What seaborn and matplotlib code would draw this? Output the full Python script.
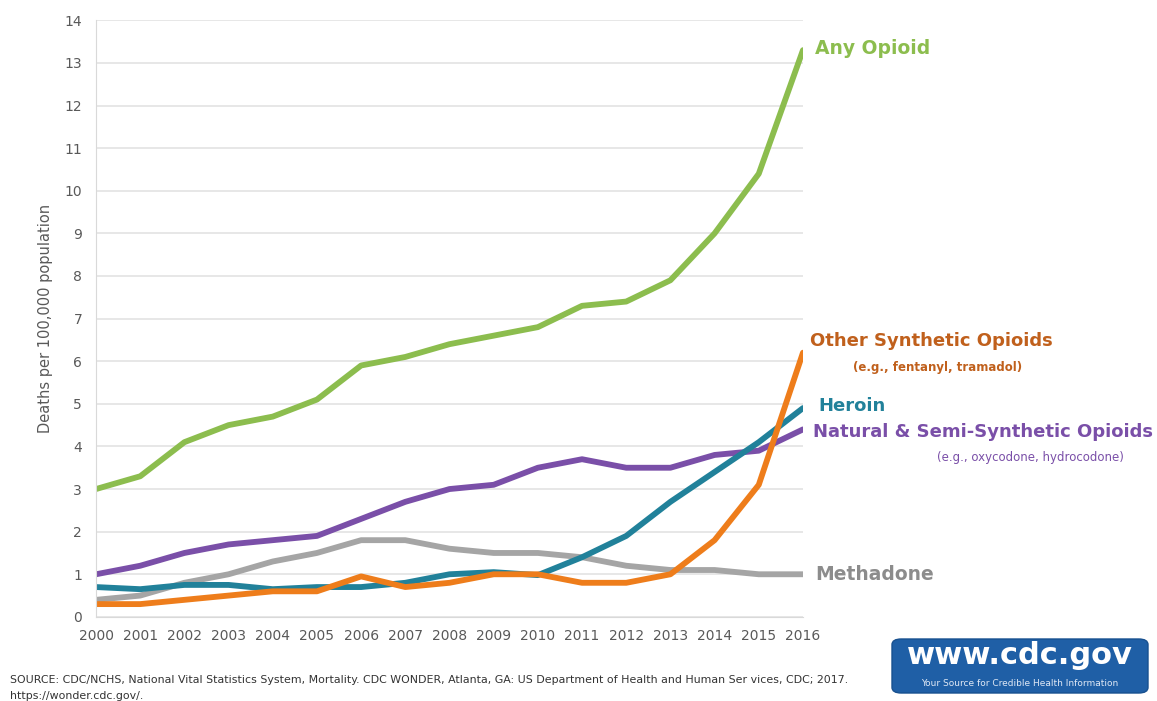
import pandas as pd
import matplotlib.pyplot as plt
import seaborn as sns
from matplotlib.patches import FancyBboxPatch

years = list(range(2000, 2017))
any_opioid = [3.0, 3.3, 4.1, 4.5, 4.7, 5.1, 5.9, 6.1, 6.4, 6.6, 6.8, 7.3, 7.4, 7.9, 9.0, 10.4, 13.3]
natural = [1.0, 1.2, 1.5, 1.7, 1.8, 1.9, 2.3, 2.7, 3.0, 3.1, 3.5, 3.7, 3.5, 3.5, 3.8, 3.9, 4.4]
methadone = [0.4, 0.5, 0.8, 1.0, 1.3, 1.5, 1.8, 1.8, 1.6, 1.5, 1.5, 1.4, 1.2, 1.1, 1.1, 1.0, 1.0]
heroin = [0.7, 0.65, 0.75, 0.75, 0.65, 0.7, 0.7, 0.8, 1.0, 1.05, 0.98, 1.4, 1.9, 2.7, 3.4, 4.1, 4.9]
synthetic = [0.3, 0.3, 0.4, 0.5, 0.6, 0.6, 0.95, 0.7, 0.8, 1.0, 1.0, 0.8, 0.8, 1.0, 1.8, 3.1, 6.2]

series = {
    "Methadone": methadone,
    "Natural & Semi-Synthetic Opioids": natural,
    "Heroin": heroin,
    "Other Synthetic Opioids": synthetic,
    "Any Opioid": any_opioid,
}
colors = {
    "Methadone": "#a5a5a5",
    "Natural & Semi-Synthetic Opioids": "#7a4fa8",
    "Other Synthetic Opioids": "#ee7d1b",
    "Heroin": "#21819a",
    "Any Opioid": "#8cbd4e",
}

df = pd.concat([pd.DataFrame({"year": years, "rate": v, "drug": k}) for k, v in series.items()])

sns.set_style("white")
fig = plt.figure(figsize=(11.57, 7.01), dpi=100)
ax = fig.add_axes([0.083, 0.12, 0.611, 0.851])

sns.lineplot(data=df, x="year", y="rate", hue="drug", palette=colors, linewidth=4.2,
             legend=False, ax=ax)

ax.set_xlim(2000, 2016)
ax.set_ylim(0, 14)
ax.set_xticks(years)
ax.set_yticks(range(0, 15))
ax.grid(axis="y", color="#e3e3e3", linewidth=1.2)
ax.set_axisbelow(True)
for s in ["top", "right"]:
    ax.spines[s].set_visible(False)
ax.spines["left"].set_color("#d9d9d9")
ax.spines["bottom"].set_color("#d9d9d9")
ax.tick_params(axis="x", colors="#d9d9d9", length=4, labelcolor="#595959", labelsize=10, pad=5)
ax.tick_params(axis="y", length=0, labelcolor="#595959", labelsize=10, pad=10)
ax.set_xlabel("")
ax.set_ylabel("Deaths per 100,000 population", color="#595959", fontsize=10.5, labelpad=8)

fig.text(815 / 1157, 1 - 49 / 701, "Any Opioid", color="#8cbd4e", fontsize=13.5,
         fontweight="bold", va="center")
fig.text(810 / 1157, 1 - 341 / 701, "Other Synthetic Opioids", color="#c0601c", fontsize=13,
         fontweight="bold", va="center")
fig.text(938 / 1157, 1 - 367 / 701, "(e.g., fentanyl, tramadol)", color="#c0601c", fontsize=8.5,
         fontweight="bold", va="center", ha="center")
fig.text(818 / 1157, 1 - 406 / 701, "Heroin", color="#21819a", fontsize=13,
         fontweight="bold", va="center")
fig.text(813 / 1157, 1 - 432 / 701, "Natural & Semi-Synthetic Opioids", color="#7a4fa8",
         fontsize=13, fontweight="bold", va="center")
fig.text(1030 / 1157, 1 - 458 / 701, "(e.g., oxycodone, hydrocodone)", color="#7a4fa8",
         fontsize=8.5, va="center", ha="center")
fig.text(815 / 1157, 1 - 575 / 701, "Methadone", color="#8c8c8c", fontsize=13.5,
         fontweight="bold", va="center")

fig.text(10 / 1157, 1 - 680 / 701,
         "SOURCE: CDC/NCHS, National Vital Statistics System, Mortality. CDC WONDER, Atlanta, GA: "
         "US Department of Health and Human Ser vices, CDC; 2017.",
         fontsize=7.9, color="#333333", va="center")
fig.text(10 / 1157, 1 - 696 / 701, "https://wonder.cdc.gov/.", fontsize=7.9, color="#333333",
         va="center")

logo = FancyBboxPatch((892 / 1157, 1 - 693 / 701), 256 / 1157, 54 / 701,
                      boxstyle="round,pad=0,rounding_size=0.008", transform=fig.transFigure,
                      facecolor="#1f5fa6", edgecolor="#17508f", linewidth=1)
fig.patches.append(logo)
fig.text(1020 / 1157, 1 - 656 / 701, "www.cdc.gov", color="white", fontsize=22,
         fontweight="bold", ha="center", va="center")
fig.text(1020 / 1157, 1 - 683 / 701, "Your Source for Credible Health Information",
         color="#dfe8f5", fontsize=6.5, ha="center", va="center")

fig.savefig("out.png", dpi=100)
